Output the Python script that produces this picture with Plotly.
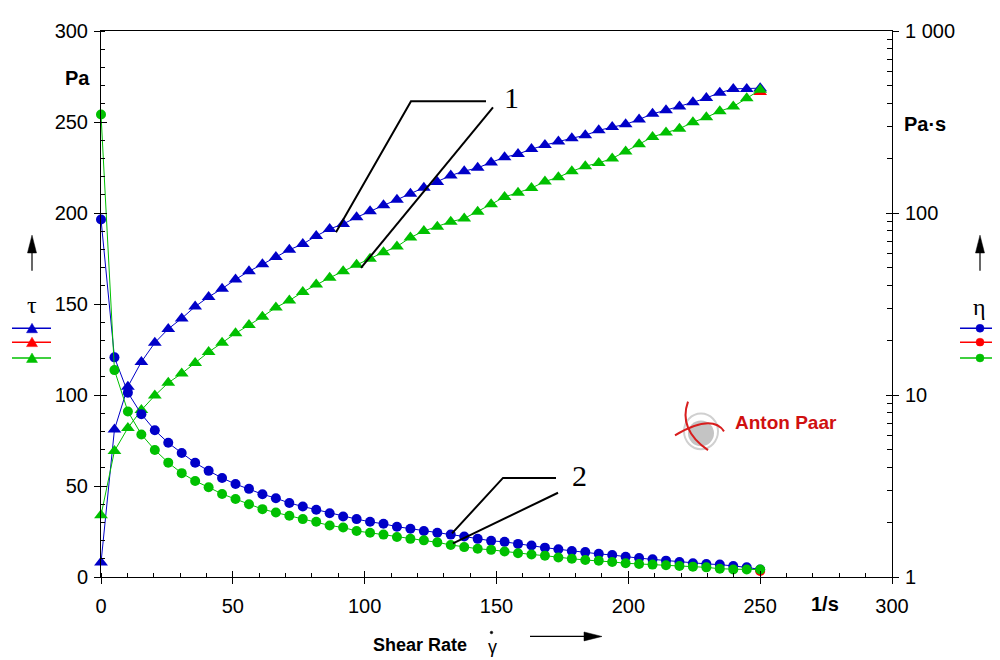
import plotly.graph_objects as go

# ---------------- data ----------------
shear_rate = [0.0, 5.1, 10.2, 15.31, 20.41, 25.51, 30.61, 35.71, 40.82, 45.92,
              51.02, 56.12, 61.22, 66.33, 71.43, 76.53, 81.63, 86.73, 91.84, 96.94,
              102.04, 107.14, 112.24, 117.35, 122.45, 127.55, 132.65, 137.76, 142.86, 147.96,
              153.06, 158.16, 163.27, 168.37, 173.47, 178.57, 183.67, 188.78, 193.88, 198.98,
              204.08, 209.18, 214.29, 219.39, 224.49, 229.59, 234.69, 239.8, 244.9, 250.0]

blue_tau = [7.9, 81.0, 104.6, 118.2, 128.7, 136.3, 142.1, 148.6, 153.9, 158.4,
            163.5, 168.0, 171.8, 175.8, 179.8, 182.9, 187.4, 191.2, 194.0, 197.6,
            201.0, 204.2, 207.3, 210.6, 213.9, 217.0, 220.6, 223.0, 224.8, 227.8,
            230.6, 232.4, 235.1, 237.3, 239.3, 241.1, 242.7, 245.4, 247.2, 248.7,
            251.4, 254.5, 256.5, 258.5, 260.8, 263.2, 266.1, 268.2, 268.2, 268.6]

green_tau = [33.9, 69.2, 81.9, 91.7, 99.7, 106.7, 111.8, 117.6, 123.6, 128.7,
             133.9, 138.4, 143.0, 148.1, 151.9, 156.6, 160.7, 164.4, 168.0, 171.6,
             174.9, 178.4, 181.6, 186.5, 190.1, 192.5, 195.2, 197.0, 200.7, 204.8,
             208.8, 211.1, 213.7, 217.3, 219.7, 222.9, 225.7, 227.5, 230.0, 233.8,
             237.8, 241.8, 244.2, 246.3, 249.9, 252.6, 255.9, 258.5, 263.0, 267.7]

blue_eta = [92.2, 16.1, 10.3, 7.85, 6.40, 5.46, 4.80, 4.24, 3.83, 3.50,
            3.24, 3.05, 2.85, 2.71, 2.55, 2.44, 2.34, 2.24, 2.15, 2.08,
            2.01, 1.96, 1.89, 1.84, 1.79, 1.75, 1.71, 1.67, 1.62, 1.58,
            1.56, 1.52, 1.49, 1.45, 1.42, 1.39, 1.37, 1.34, 1.32, 1.29,
            1.27, 1.25, 1.23, 1.21, 1.19, 1.18, 1.17, 1.15, 1.13, 1.10]

green_eta = [348.0, 13.7, 8.12, 6.07, 4.99, 4.25, 3.72, 3.37, 3.11, 2.86,
             2.68, 2.51, 2.36, 2.26, 2.17, 2.08, 2.01, 1.92, 1.87, 1.79,
             1.75, 1.71, 1.66, 1.62, 1.59, 1.55, 1.50, 1.46, 1.43, 1.41,
             1.38, 1.35, 1.33, 1.31, 1.28, 1.26, 1.24, 1.23, 1.21, 1.19,
             1.18, 1.17, 1.16, 1.15, 1.14, 1.13, 1.11, 1.10, 1.10, 1.10]

red_rate = [250.0]
red_tau = [266.5]
red_eta = [1.08]

x_ticks = [0, 50, 100, 150, 200, 250, 300]
tau_ticks = [0, 50, 100, 150, 200, 250, 300]
eta_ticks = [1, 10, 100, 1000]
eta_ticktext = ["1", "10", "100", "1 000"]
eta_minor = [2, 3, 4, 5, 6, 7, 8, 9, 20, 30, 40, 50, 60, 70, 80, 90,
             200, 300, 400, 500, 600, 700, 800, 900]

# ---------------- styling ----------------
BLUE = "#0000c8"
GREEN = "#00c000"
RED = "#ff0000"
SANS = "Liberation Sans, Arial, sans-serif"
SERIF = "Liberation Serif, Times New Roman, serif"

OFF = 8                      # page body margin of the browser
W_PX, H_PX = 1000 - OFF, 660 - OFF
L, R, T, B = 101, 892, 26, 577   # plot area in screen pixels


def px(x):
    return (x - L) / (R - L)


def py(y):
    return (B - y) / (B - T)


def path(points, close=False):
    s = "M " + " L ".join(f"{px(a):.5f},{py(b):.5f}" for a, b in points)
    return s + (" Z" if close else "")


fig = go.Figure()


def add_series(x, tau, eta, color):
    fig.add_trace(go.Scatter(x=x, y=tau, mode="lines+markers", yaxis="y",
                             line=dict(color=color, width=1),
                             marker=dict(symbol="triangle-up", size=12, color=color),
                             cliponaxis=False, showlegend=False))
    fig.add_trace(go.Scatter(x=x, y=eta, mode="lines+markers", yaxis="y2",
                             line=dict(color=color, width=1),
                             marker=dict(symbol="circle", size=10, color=color),
                             cliponaxis=False, showlegend=False))


add_series(shear_rate, blue_tau, blue_eta, BLUE)
add_series(red_rate, red_tau, red_eta, RED)
add_series(shear_rate, green_tau, green_eta, GREEN)

# dummy traces for overlay axes giving the "crossing" major ticks
fig.add_trace(go.Scatter(x=[None], y=[None], xaxis="x2", yaxis="y3", showlegend=False, hoverinfo="skip"))
fig.add_trace(go.Scatter(x=[None], y=[None], xaxis="x2", yaxis="y4", showlegend=False, hoverinfo="skip"))

tickfont = dict(family=SANS, size=20, color="black")

fig.update_layout(
    width=W_PX, height=H_PX,
    margin=dict(l=L - OFF, r=W_PX - (R - OFF), t=T - OFF, b=H_PX - (B - OFF), pad=0),
    paper_bgcolor="white", plot_bgcolor="white",
    showlegend=False,
    xaxis=dict(range=[0, 300], tickvals=x_ticks, ticks="outside", ticklen=6, tickwidth=1,
               tickcolor="black", showline=True, linecolor="black", linewidth=1, mirror=True,
               showgrid=False, zeroline=False, tickfont=tickfont, ticklabelstandoff=5,
               minor=dict(ticks="inside", ticklen=4, dtick=10, tick0=0, tickcolor="black", showgrid=False)),
    yaxis=dict(range=[0, 300], tickvals=tau_ticks, ticks="outside", ticklen=6, tickwidth=1,
               tickcolor="black", showline=True, linecolor="black", linewidth=1,
               showgrid=False, zeroline=False, tickfont=tickfont, ticklabelstandoff=2,
               minor=dict(ticks="inside", ticklen=4, dtick=10, tick0=0, tickcolor="black", showgrid=False)),
    yaxis2=dict(overlaying="y", side="right", type="log", range=[0, 3], tickvals=eta_ticks,
                ticktext=eta_ticktext, ticks="outside", ticklen=6, tickcolor="black",
                showline=True, linecolor="black", linewidth=1, showgrid=False, zeroline=False,
                tickfont=tickfont, ticklabelstandoff=2,
                minor=dict(ticks="inside", ticklen=5, tickvals=eta_minor, tickcolor="black", showgrid=False)),
    xaxis2=dict(overlaying="x", anchor="y", range=[0, 300], tickvals=x_ticks, ticks="inside",
                ticklen=6, tickcolor="black", showticklabels=False, showline=False,
                showgrid=False, zeroline=False),
    yaxis3=dict(overlaying="y", anchor="x", side="left", range=[0, 300], tickvals=tau_ticks,
                ticks="inside", ticklen=6, tickcolor="black", showticklabels=False,
                showline=False, showgrid=False, zeroline=False),
    yaxis4=dict(overlaying="y", anchor="x", side="right", type="log", range=[0, 3],
                tickvals=eta_ticks, ticks="inside", ticklen=6, tickcolor="black",
                showticklabels=False, showline=False, showgrid=False, zeroline=False),
)

shapes = []
ann = []


def text(x, y, s, size=20, family=SANS, color="black", bold=False):
    ann.append(dict(xref="paper", yref="paper", x=px(x), y=py(y), text=(f"<b>{s}</b>" if bold else s),
                    showarrow=False, xanchor="center", yanchor="middle",
                    font=dict(family=family, size=size, color=color)))


def line_path(points, color="black", width=1.5, fill=None):
    d = dict(type="path", xref="paper", yref="paper", path=path(points, close=fill is not None),
             line=dict(color=color, width=width))
    if fill:
        d["fillcolor"] = fill
    shapes.append(d)


def dot(x, y, r, color):
    shapes.append(dict(type="circle", xref="paper", yref="paper", x0=px(x - r), x1=px(x + r),
                       y0=py(y + r), y1=py(y - r), fillcolor=color, line=dict(color=color, width=0.5)))


# axis unit labels
text(77, 73, "Pa", bold=True)
text(925, 120, "Pa·s", bold=True)
text(825, 604, "1/s", bold=True)
text(420, 646, "Shear Rate", size=18, bold=True)
text(492, 648, "γ", size=18)
dot(491.5, 633, 1.3, "black")

# up arrows and axis symbols
for ax in (32, 980):
    line_path([(ax, 268), (ax, 246)], width=1.2)
    line_path([(ax - 4.5, 250), (ax + 4.5, 250), (ax, 232)], width=0.5, fill="black")
text(32, 303, "τ", size=24, family=SERIF)
text(980, 305, "η", size=24, family=SERIF)

# bottom arrow
line_path([(530, 637), (590, 637)], width=1.2)
line_path([(584, 632.5), (602, 637), (584, 641.5)], width=0.5, fill="black")

# legend keys
for yk, col in ((326, BLUE), (340, RED), (356, GREEN)):
    line_path([(12, yk), (51, yk)], color=col, width=1.5)
    line_path([(26.5, yk + 4.5), (37.5, yk + 4.5), (32, yk - 5)], color=col, width=0.5, fill=col)
    line_path([(960, yk), (1000, yk)], color=col, width=1.5)
    dot(980, yk, 4, col)

# pointer lines with labels
line_path([(336, 229), (411, 97), (486, 97)], width=2)
line_path([(361, 265), (493, 103)], width=2)
text(511, 93, "1", size=30, family=SERIF)
line_path([(452, 533), (503, 477), (556, 477)], width=2)
line_path([(453, 543), (558, 492)], width=2)
text(579, 475, "2", size=30, family=SERIF)

# Anton Paar logo (approximation)
shapes.append(dict(type="circle", xref="paper", yref="paper", x0=px(684), x1=px(718),
                   y0=py(448), y1=py(412), line=dict(color="#d0d0d0", width=2)))
shapes.append(dict(type="circle", xref="paper", yref="paper", x0=px(688), x1=px(714),
                   y0=py(445), y1=py(419), fillcolor="#c4c4c4", line=dict(color="#c4c4c4", width=0)))
shapes.append(dict(type="path", xref="paper", yref="paper",
                   path=f"M {px(688):.5f},{py(400):.5f} Q {px(678):.5f},{py(428):.5f} {px(708):.5f},{py(449):.5f}",
                   line=dict(color="#d81e1e", width=2)))
shapes.append(dict(type="path", xref="paper", yref="paper",
                   path=f"M {px(675):.5f},{py(434):.5f} Q {px(712):.5f},{py(412):.5f} {px(724):.5f},{py(430):.5f}",
                   line=dict(color="#d81e1e", width=2)))
text(786, 421, "Anton Paar", size=19, color="#d01010", bold=True)

fig.update_layout(shapes=shapes, annotations=ann)

fig.write_html("out.html")
